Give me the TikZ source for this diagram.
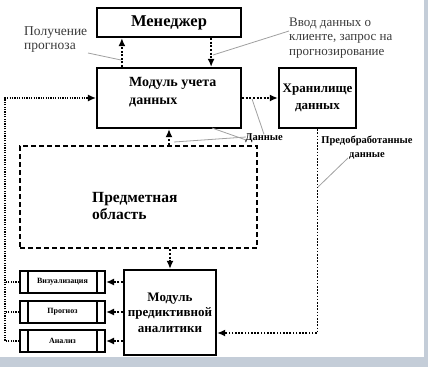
\documentclass[tikz,border=0pt]{standalone}
\usepackage{fontspec}
\setmainfont{Liberation Serif}
\usetikzlibrary{arrows.meta,calc}
\definecolor{leadgray}{HTML}{A0A0A0}
\definecolor{labgray}{HTML}{3A3A3A}
\definecolor{framecol}{HTML}{C4CDD8}
\begin{document}
\begin{tikzpicture}[x=1pt,y=-1pt,
  box/.style={draw, line width=2.2pt, inner sep=0pt},
  dbox/.style={draw, line width=2.8pt, dash pattern=on 5pt off 3pt, inner sep=0pt},
  sbox/.style={draw, line width=2pt, inner sep=0pt, minimum width=85pt, minimum height=22pt, font=\fontsize{8}{9}\selectfont\bfseries},
  bar/.style={line width=2pt},
  tip/.style={-{Latex[length=8pt,width=7pt]}},
  darr/.style={line width=2pt, dash pattern=on 2pt off 1.6pt, tip},
  rloop/.style={line width=1.7pt, dash pattern=on 1.7pt off 1.5pt},
  lloop/.style={line width=1.3pt, dash pattern=on 1.3pt off 1.1pt},
  lead/.style={draw=leadgray, line width=0.8pt},
  lab/.style={inner sep=0pt, text=labgray, align=left},
  blab/.style={inner sep=0pt, align=center}
]
\useasboundingbox (0,0) rectangle (428,367);
% frame strips
\fill[framecol] (0,357) rectangle (428,367);
\fill[framecol] (424,0) rectangle (428,367);

% boxes
\node[box, minimum width=144pt, minimum height=29pt, font=\fontsize{16.5}{18}\selectfont\bfseries] (mgr) at (169,22.5) {Менеджер};
\node[box, minimum width=144pt, minimum height=60pt] (mod) at (169,98) {};
\node[blab, align=left, anchor=west, font=\fontsize{14}{18}\selectfont\bfseries] (modT) at (129,92) {Модуль учета\\данных};
\node[box, minimum width=77pt, minimum height=60pt, align=center, font=\fontsize{13}{17}\selectfont\bfseries] (sto) at (317.5,98) {Хранилище\\данных};
\node[dbox, minimum width=237pt, minimum height=102pt] (pred) at (138.5,197) {};
\node[blab, align=left, anchor=west, font=\fontsize{15.5}{17.5}\selectfont\bfseries] (predT) at (92,206) {Предметная\\область};
\node[box, minimum width=92pt, minimum height=85pt, align=center, font=\fontsize{13}{15.5}\selectfont\bfseries] (pa) at (170,312.5) {Модуль\\предиктивной\\аналитики};

\node[sbox] (vis) at (62.5,282) {Визуализация};
\node[sbox] (prg) at (62.5,312) {Прогноз};
\node[sbox] (ana) at (62.5,341) {Анализ};
\foreach \n in {vis,prg,ana}{
  \draw[bar] ([xshift=9pt]\n.north west) -- ([xshift=9pt]\n.south west);
  \draw[bar] ([xshift=-9pt]\n.north east) -- ([xshift=-9pt]\n.south east);
}

% arrows
\draw[darr] ([xshift=26pt]mod.north west) -- ([xshift=26pt]mgr.south west);
\draw[darr] ([xshift=-31pt]mgr.south east) -- ([xshift=-31pt]mod.north east);
\draw[darr] (mod.east) -- (sto.west);
\draw[darr] (mod.south |- pred.north) -- (mod.south);
\draw[darr] (pa.north |- pred.south) -- (pa.north);
\draw[darr] (pa.west |- vis.east) -- (vis.east);
\draw[darr] (pa.west |- prg.east) -- (prg.east);
\draw[darr] (pa.west |- ana.east) -- (ana.east);

% right loop
\coordinate (rc) at (317,333);
\draw[rloop, tip] (sto.south) |- (pa.east |- rc);

% left loop
\coordinate (lc) at (5,98);
\draw[lloop, tip] (ana.west) -| (lc) -- (mod.west);
\draw[lloop] (vis.west) -- (vis.west -| lc);
\draw[lloop] (prg.west) -- (prg.west -| lc);

% labels
\node[lab, anchor=west, font=\fontsize{13.5}{14}\selectfont] (pol) at (24,40) {Получение\\прогноза};
\node[lab, anchor=west, font=\fontsize{13}{14.5}\selectfont] (vvod) at (289,38) {Ввод данных о\\клиенте, запрос на\\прогнозирование};
\node[blab, font=\fontsize{10.5}{12}\selectfont\bfseries] (dan) at (264,138) {Данные};
\node[blab, font=\fontsize{10.5}{14}\selectfont\bfseries] (preo) at (367,148) {Предобработанные\\данные};

% leader lines
\coordinate (polS) at (88,53);
\coordinate (polE) at (121,60);
\draw[lead] (polS) -- (polE);
\coordinate (vvS) at (289,31);
\coordinate (vvE) at (213,55);
\draw[lead] (vvS) -- (vvE);
\coordinate (d1) at (212,128);
\coordinate (d2) at (174,142);
\coordinate (d3) at (252,99);
\draw[lead] ([xshift=1pt,yshift=-2pt]dan.west) -- (d1);
\draw[lead] ([xshift=1pt,yshift=1pt]dan.west) -- (d2);
\draw[lead] ([yshift=-1pt]dan.north) -- (d3);
\coordinate (pS) at (348,158);
\coordinate (pE) at (318,187);
\draw[lead] (pS) -- (pE);
\end{tikzpicture}
\end{document}
